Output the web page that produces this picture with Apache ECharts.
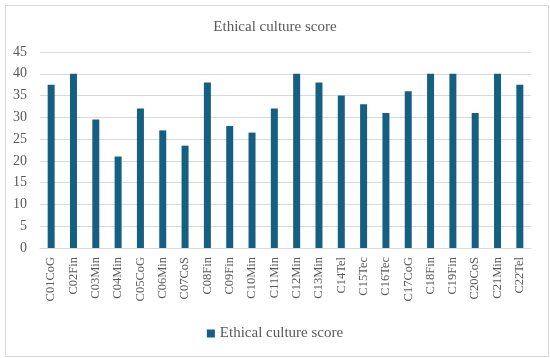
<!DOCTYPE html>
<html>
<head>
<meta charset="utf-8">
<script src="https://cdn.jsdelivr.net/npm/echarts@6/dist/echarts.min.js"></script>
<style>
  body { margin: 0; }
  #chart { width: 550px; height: 358px; }
</style>
</head>
<body>
<div id="chart"></div>
<script>
// companies on the x axis
var companies = [
  "C01CoG", "C02Fin", "C03Min", "C04Min", "C05CoG", "C06Min", "C07CoS", "C08Fin",
  "C09Fin", "C10Min", "C11Min", "C12Min", "C13Min", "C14Tel", "C15Tec", "C16Tec",
  "C17CoG", "C18Fin", "C19Fin", "C20CoS", "C21Min", "C22Tel"
];
// score per company
var scores = [
  37.5, 40, 29.5, 21, 32, 27, 23.5, 38,
  28, 26.5, 32, 40, 38, 35, 33, 31,
  36, 40, 40, 31, 40, 37.5
];
var seriesName = "Ethical culture score";

var font = "'Liberation Serif', 'DejaVu Serif', serif";
var textColor = "#595959";

var myChart = echarts.init(document.getElementById("chart"));
var option = {
  backgroundColor: "#ffffff",
  textStyle: { fontFamily: font },
  title: {
    text: "Ethical culture score",
    left: "center",
    top: 15,
    textStyle: { fontFamily: font, fontSize: 15, fontWeight: "normal", color: textColor }
  },
  legend: {
    bottom: 12,
    left: "center",
    itemWidth: 8,
    itemHeight: 8,
    itemGap: 6,
    icon: "rect",
    textStyle: { fontFamily: font, fontSize: 15, color: textColor },
    data: [seriesName]
  },
  graphic: [
    {
      type: "rect",
      left: 3,
      top: 3,
      shape: { width: 543, height: 351 },
      style: { fill: "none", stroke: "#d9d9d9", lineWidth: 1 },
      silent: true
    }
  ],
  grid: { left: 40, right: 19, top: 52, bottom: 110, containLabel: false },
  xAxis: {
    type: "category",
    data: companies,
    axisLine: { lineStyle: { color: "#d9d9d9" } },
    axisTick: { show: false },
    axisLabel: {
      rotate: 90,
      interval: 0,
      margin: 9,
      fontFamily: font,
      fontSize: 12.5,
      color: textColor
    }
  },
  yAxis: {
    type: "value",
    min: 0,
    max: 45,
    interval: 5,
    axisLine: { show: false },
    axisTick: { show: false },
    axisLabel: { fontFamily: font, fontSize: 14, color: textColor, margin: 13 },
    splitLine: { lineStyle: { color: "#d9d9d9" } }
  },
  series: [
    {
      name: seriesName,
      type: "bar",
      data: scores,
      barWidth: 7,
      itemStyle: { color: "#156082" }
    }
  ]
};
myChart.setOption(option);
</script>
</body>
</html>
